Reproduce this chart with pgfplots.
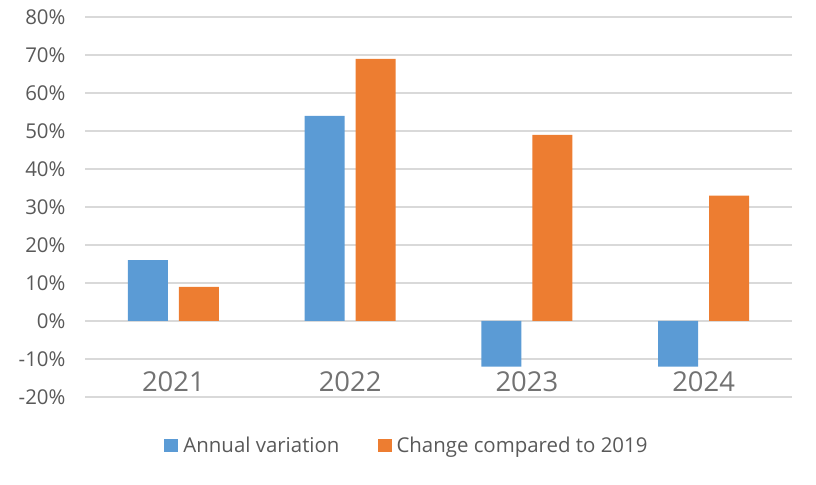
\documentclass[border=0pt]{standalone}
\usepackage{fontspec}
\setmainfont{Open Sans}
\usepackage{pgfplots}
\pgfplotsset{compat=1.18}
\definecolor{barblue}{HTML}{5B9BD5}
\definecolor{barorange}{HTML}{ED7D31}
\definecolor{gridgray}{HTML}{D9D9D9}
\definecolor{txtgray}{HTML}{595959}
\begin{document}
\begin{tikzpicture}
\useasboundingbox (0,0) rectangle (816bp,485bp);
\begin{axis}[
  at={(85bp,88bp)}, anchor=south west,
  width=707bp, height=380bp, scale only axis,
  ybar=11bp, bar width=40bp,
  xmin=-0.5, xmax=3.5, ymin=-20, ymax=80,
  xtick=data, xticklabels={2021,2022,2023,2024},
  ytick={-20,-10,...,80},
  yticklabel={\pgfmathprintnumber{\tick}\%},
  /pgf/number format/assume math mode=true,
  axis line style={draw=none},
  major tick length=0pt,
  ymajorgrids, grid style={gridgray, line width=1.5bp},
  yticklabel style={font=\fontsize{20.5}{24}\selectfont, text=txtgray, xshift=-16bp},
  xticklabel style={font=\fontsize{27.5}{32}\selectfont, text=txtgray!85, anchor=center, yshift=15bp},
  legend style={at={(0.4554,-0.1276)}, anchor=center, draw=none, fill=none,
    legend columns=2, font=\fontsize{20.5}{24}\selectfont, text=txtgray,
    /tikz/every even column/.append style={column sep=36bp}},
  legend image code/.code={\fill[#1] (0bp,-6.5bp) rectangle (14bp,6.5bp); \path (17bp,0bp);},
]
\addplot[fill=barblue, draw=none] coordinates {(0,16) (1,54) (2,-12) (3,-12)};
\addplot[fill=barorange, draw=none] coordinates {(0,9) (1,69) (2,49) (3,33)};
\legend{Annual variation, Change compared to 2019}
\end{axis}
\end{tikzpicture}
\end{document}
